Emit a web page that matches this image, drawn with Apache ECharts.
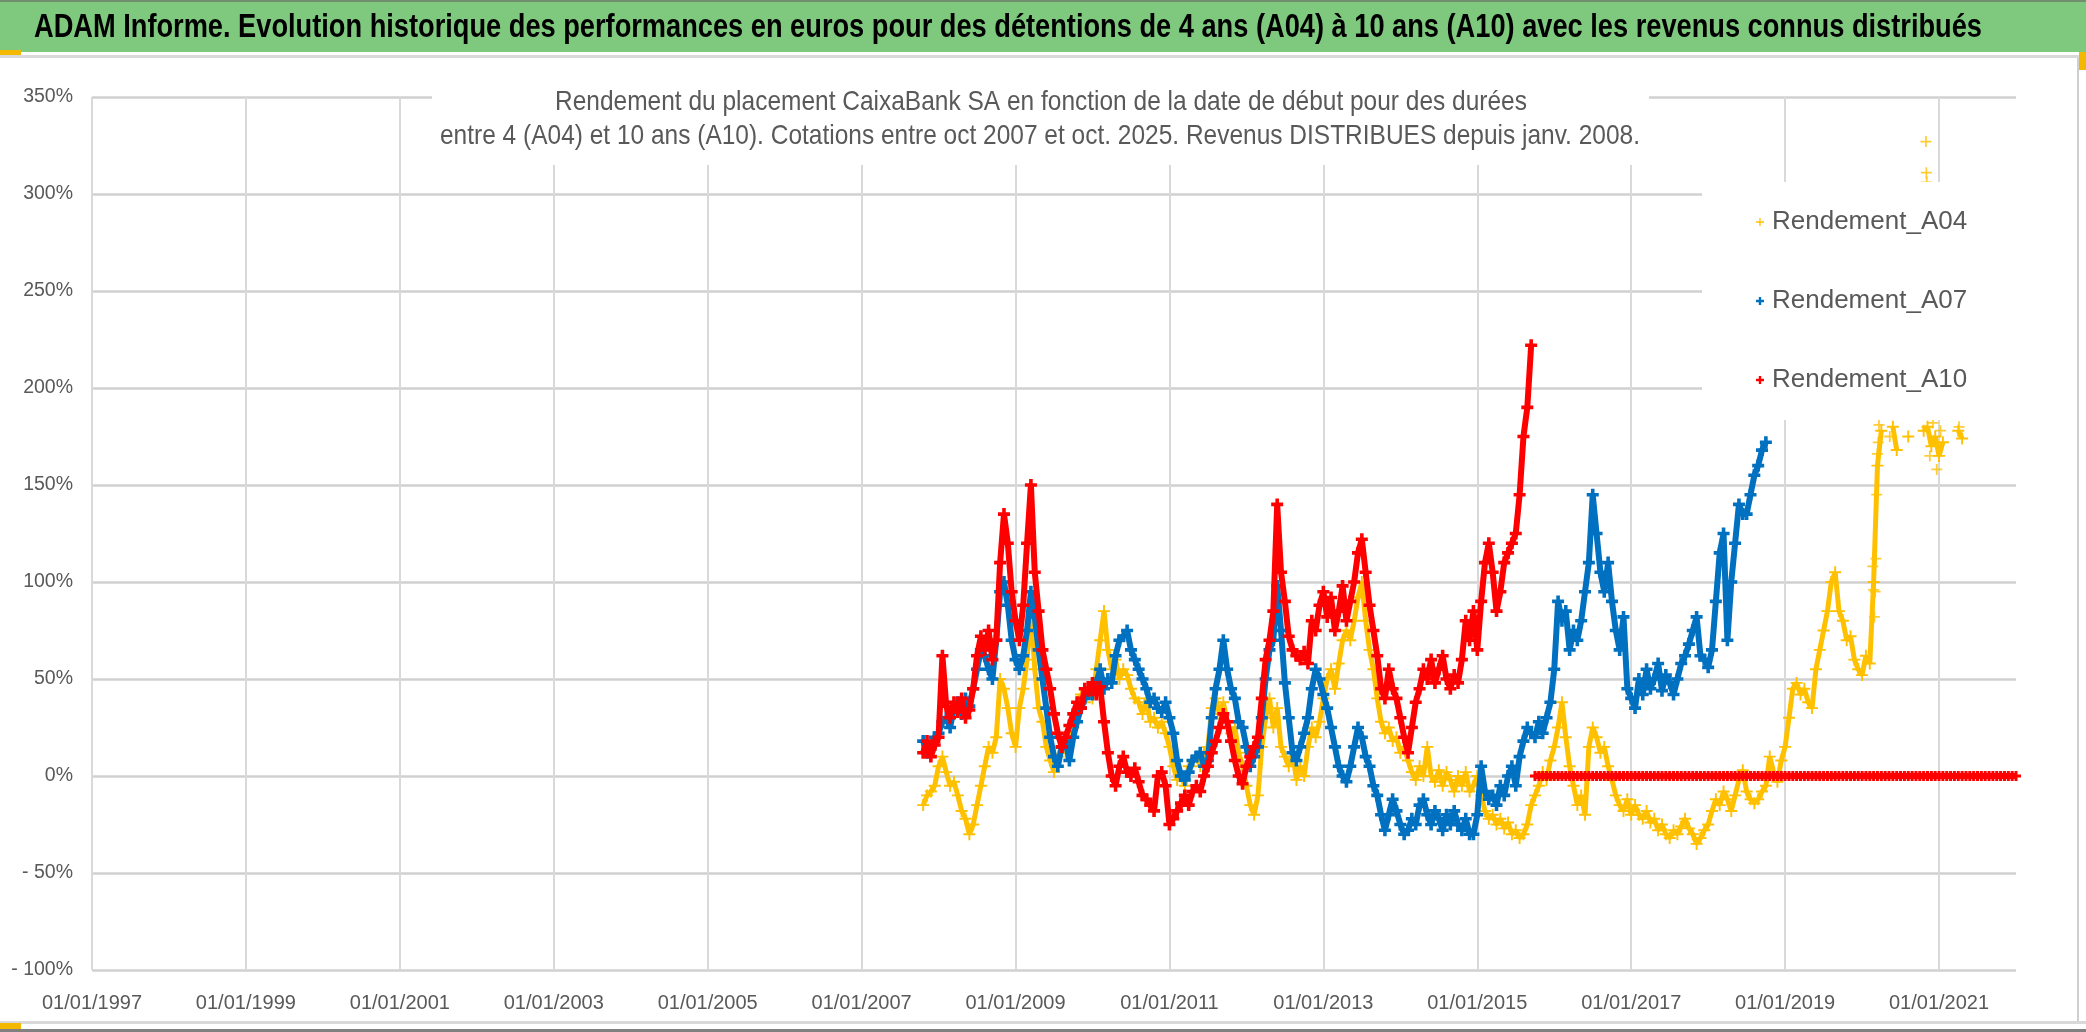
<!DOCTYPE html>
<html><head><meta charset="utf-8">
<script src="https://cdn.jsdelivr.net/npm/echarts@6/dist/echarts.min.js"></script>
<style>html,body{margin:0;padding:0;background:#fff;overflow:hidden}#c{width:2086px;height:1032px}</style>
</head><body><div id="c"></div>
<script>
// Start dates: regular grid, step 0.05 year
const startYear = 2007.80;
const step = 0.05;
const zeroStartYear = 2015.75;
const seriesNames = ['Rendement_A04', 'Rendement_A07', 'Rendement_A10'];
const xTickYears = ['1997','1999','2001','2003','2005','2007','2009','2011','2013','2015','2017','2019','2021'];
const mainTitle = 'ADAM Informe. Evolution historique des performances en euros pour des détentions de 4 ans (A04) à 10 ans (A10) avec les revenus connus distribués';
const subTitle1 = 'Rendement du placement CaixaBank SA en fonction de la date de début pour des durées';
const subTitle2 = 'entre 4 (A04) et 10 ans (A10). Cotations entre oct 2007 et oct. 2025. Revenus DISTRIBUES depuis janv. 2008.';

// Rendement_A04 (%), 2007.80 -> 2021.30
const a04 = [
  -15, -10, -8, -5,
  5, 10, 2, -5, -3, -10, -18, -22, -30, -25, -15, -5, 5, 15, 12, 20, 50, 45, 35, 22,
  15, 35, 45, 60, 85, 55, 35, 28, 15, 8, 2, 10, 15, 12, 20, 25, 38, 42, 38, 45,
  40, 55, 70, 85, 65, 55, 60, 50, 55, 52, 45, 40, 38, 32, 40, 28, 30, 25, 28, 22,
  15, 5, -2, 0, -5, 5, 8, 10, 5, 12, 15, 35, 40, 32, 38, 28, 22, 25, 12, 5,
  -5, -15, -20, -10, 15, 30, 40, 25, 35, 15, 10, 5, 12, -2, 5, 0, 15, 25, 20, 28,
  40, 50, 55, 45, 58, 70, 75, 70, 80, 92, 100, 80, 65, 55, 40, 28, 22, 25, 18, 20,
  12, 15, 8, 2, -2, 5, 0, 15, 0, -3, 3, -5, 2, -2, -8, 0, -5, 2, -8, -5,
  0, -10, -18, -22, -20, -25, -22, -27, -24, -30, -28, -32, -30, -25, -15, -10, -5, 2, -2, 8,
  15, 25, 38, 20, 5, -5, -15, -10, -20, 15, 25, 20, 12, 15, 5, -2, -10, -15, -18, -12,
  -20, -15, -20, -22, -18, -24, -22, -28, -25, -30, -32, -28, -30, -26, -22, -27, -30, -35, -32, -28,
  -25, -18, -12, -15, -8, -12, -18, -10, -2, 3, -8, -12, -14, -12, -8, -5, 10, 2, -3, 8,
  15, 30, 45, 48, 42, 45, 38, 35, 55, 65, 75, 85, 100, 105, 85, 80, 70, 72, 60, 55,
  52, 62, 58, 100, 160, 178, null, null, 180, 168, null, null, 175, null, null, null, 178, 180, 170, 175,
  165, 172, null, null, null, 178, 174
];
// A04 extra points off the regular grid [year, %]
const a04Extra = [
  [2020.14, 108], [2020.15, 96], [2020.16, 82], [2020.17, 95], [2020.18, 112], [2020.19, 145],
  [2020.20, 166], [2020.21, 172], [2020.22, 181], [2020.36, 175],
  [2020.83, 327], [2020.835, 311], [2020.84, 306], [2020.88, 165], [2020.92, 182],
  [2020.97, 158], [2021.02, 178], [2021.26, 180]
];

// Rendement_A07 (%), 2007.80 -> 2018.75
const a07 = [
  18, 12, 15, 20,
  22, 28, 30, 25, 35, 38, 32, 40, 36, 45, 55, 65, 62, 55, 50, 70, 95, 100, 88, 70,
  60, 55, 62, 75, 95, 82, 65, 50, 35, 20, 10, 5, 15, 18, 8, 20, 28, 35, 40, 45,
  42, 48, 55, 45, 50, 48, 62, 70, 72, 75, 65, 60, 55, 50, 45, 38, 40, 35, 33, 38,
  30, 22, 8, 0, -2, 2, 8, 10, 12, 5, 8, 30, 45, 55, 70, 55, 45, 40, 28, 25,
  15, 5, 10, 15, 30, 50, 65, 70, 98, 75, 48, 30, 12, 8, 15, 22, 30, 45, 55, 50,
  42, 35, 25, 15, 5, 0, -3, 5, 15, 25, 20, 10, 5, -5, -10, -20, -28, -20, -12, -18,
  -25, -30, -28, -22, -25, -15, -12, -20, -25, -18, -22, -28, -20, -25, -18, -25, -28, -22, -30, -30,
  -20, 5, -8, -12, -10, -15, -5, -10, 0, 5, -5, 10, 18, 25, 22, 20, 28, 22, 30, 38,
  55, 90, 80, 85, 65, 75, 70, 80, 95, 110, 145, 125, 105, 95, 110, 90, 75, 65, 82, 45,
  40, 35, 50, 42, 55, 45, 50, 58, 44, 52, 48, 42, 50, 58, 62, 68, 75, 82, 62, 60,
  56, 65, 90, 115, 125, 70, 100, 120, 140, 135, 135, 145, 155, 160, 168, 172
];

// Rendement_A10 (%), 2007.80 -> 2015.70
const a10 = [
  12, 18, 10, 16,
  20, 62, 36, 30, 38, 33, 40, 30, 34, 45, 62, 72, 65, 75, 60, 70, 110, 135, 120, 95,
  80, 70, 88, 120, 150, 105, 85, 65, 55, 45, 32, 22, 15, 20, 26, 32, 38, 35, 45, 44,
  48, 42, 46, 28, 12, 0, -5, 5, 10, 2, 0, 4, -3, -10, -12, -15, -18, 0, 2, -5,
  -25, -22, -18, -14, -10, -15, -8, -5, -8, 0, 5, 12, 18, 25, 32, 28, 18, 8, 0, -4,
  5, 10, 15, 20, 40, 60, 70, 85, 140, 105, 90, 72, 65, 62, 60, 64, 58, 80, 75, 88,
  95, 82, 92, 75, 85, 98, 80, 90, 100, 115, 122, 105, 88, 75, 62, 45, 40, 55, 45, 40,
  30, 20, 12, 25, 38, 45, 55, 50, 60, 48, 55, 62, 50, 45, 52, 48, 60, 80, 70, 85,
  65, 90, 110, 120, 105, 85, 95, 110, 115, 120, 125, 145, 175, 190, 222
];
// Rendement_A10 (%), 2015.75 -> 2022.00 (no 10-year result yet: 0)
const a10Zero = [
  0, 0, 0, 0, 0,
  0, 0, 0, 0, 0, 0, 0, 0, 0, 0, 0, 0, 0, 0, 0, 0, 0, 0, 0, 0,
  0, 0, 0, 0, 0, 0, 0, 0, 0, 0, 0, 0, 0, 0, 0, 0, 0, 0, 0, 0,
  0, 0, 0, 0, 0, 0, 0, 0, 0, 0, 0, 0, 0, 0, 0, 0, 0, 0, 0, 0,
  0, 0, 0, 0, 0, 0, 0, 0, 0, 0, 0, 0, 0, 0, 0, 0, 0, 0, 0, 0,
  0, 0, 0, 0, 0, 0, 0, 0, 0, 0, 0, 0, 0, 0, 0, 0, 0, 0, 0, 0,
  0, 0, 0, 0, 0, 0, 0, 0, 0, 0, 0, 0, 0, 0, 0, 0, 0, 0, 0, 0,
  0
];

const BASE = 1997;
function toPoints(vals, y0) {
  return vals.map((v, i) => {
    const yr = Math.round((y0 + i * step) * 1000) / 1000;
    return [yr - BASE, v];
  });
}
const a04Data = toPoints(a04, startYear);
const a04ExtraData = a04Extra.map(p => [p[0] - BASE, p[1]]);
const a07Data = toPoints(a07, startYear);
const a10Data = toPoints(a10, startYear);
const a10ZeroData = toPoints(a10Zero, zeroStartYear);

const SANS = "'Liberation Sans',Arial,sans-serif";
const plusThin = 'path://M0,4.2H4.2V0H5.8V4.2H10V5.8H5.8V10H4.2V5.8H0Z';
const plusBold = 'path://M0,3.5H3.5V0H6.5V3.5H10V6.5H6.5V10H3.5V6.5H0Z';

// condensed text helper (Calibri-like narrow look)
const mctx = document.createElement('canvas').getContext('2d');
function textWidth(txt, font) { mctx.font = font; return mctx.measureText(txt).width; }
const titleFont = 'bold 33px ' + SANS;
const titleScale = 1948 / textWidth(mainTitle, titleFont);
const subFont = '28px ' + SANS;
const subScale = 1200 / textWidth(subTitle2, subFont);

const colA04 = '#ffc000', colA07 = '#0070c0', colA10 = '#ff0000';

function lineSeries(name, data, color, sym, size, width, z) {
  return {
    name, type: 'line', data, symbol: sym, symbolSize: size, showSymbol: true,
    connectNulls: false, showAllSymbol: true,
    lineStyle: {color, width}, itemStyle: {color}, emphasis: {disabled: true}, z
  };
}

const chart = echarts.init(document.getElementById('c'), null, {renderer: 'canvas'});
chart.setOption({
  animation: false,
  backgroundColor: '#ffffff',
  graphic: [
    {type: 'rect', z: 10, shape: {x: 0, y: 0, width: 2086, height: 2}, style: {fill: '#6f8f6f'}},
    {type: 'rect', z: 10, shape: {x: 0, y: 2, width: 2086, height: 50}, style: {fill: '#7fc97f'}},
    {type: 'rect', z: 10, shape: {x: 0, y: 55, width: 2086, height: 3}, style: {fill: '#d9d9d9'}},
    {type: 'rect', z: 10, shape: {x: 2077, y: 58, width: 2, height: 964}, style: {fill: '#cfcfcf'}},
    {type: 'rect', z: 10, shape: {x: 0, y: 1021, width: 2086, height: 3}, style: {fill: '#d9d9d9'}},
    {type: 'rect', z: 10, shape: {x: 0, y: 1029, width: 2086, height: 3}, style: {fill: '#808080'}},
    {type: 'rect', z: 10, shape: {x: 0, y: 50, width: 21, height: 5}, style: {fill: '#f5b800'}},
    {type: 'rect', z: 10, shape: {x: 0, y: 1023, width: 21, height: 6}, style: {fill: '#f5b800'}},
    {type: 'rect', z: 10, shape: {x: 2079, y: 52, width: 7, height: 18}, style: {fill: '#f5b800'}},
    {type: 'text', z: 11, x: 34, y: 28, scaleX: titleScale, originX: 0,
     style: {text: mainTitle, font: titleFont, fill: '#000000', textAlign: 'left', textVerticalAlign: 'middle'}},
    {type: 'rect', z: 10, shape: {x: 432, y: 76, width: 1217, height: 89}, style: {fill: '#ffffff'}},
    {type: 'text', z: 11, x: 1041, y: 102, scaleX: subScale, originX: 0,
     style: {text: subTitle1, font: subFont, fill: '#595959', textAlign: 'center', textVerticalAlign: 'middle'}},
    {type: 'text', z: 11, x: 1040, y: 136, scaleX: subScale, originX: 0,
     style: {text: subTitle2, font: subFont, fill: '#595959', textAlign: 'center', textVerticalAlign: 'middle'}}
  ],
  legend: {
    orient: 'vertical', left: 1702, top: 182,
    padding: [27, 52, 27, 54], itemGap: 53, itemWidth: 8, itemHeight: 8,
    backgroundColor: '#ffffff',
    textStyle: {fontFamily: SANS, fontSize: 26, color: '#595959', padding: [0, 0, 0, 3]},
    data: [
      {name: seriesNames[0], icon: plusThin, itemStyle: {color: colA04}},
      {name: seriesNames[1], icon: plusBold, itemStyle: {color: colA07}},
      {name: seriesNames[2], icon: plusBold, itemStyle: {color: colA10}}
    ]
  },
  grid: {left: 92, right: 70, top: 97, bottom: 62, containLabel: false},
  xAxis: {
    type: 'value', min: 0, max: 25, interval: 2,
    axisLine: {show: false}, axisTick: {show: false},
    axisLabel: {
      fontFamily: SANS, fontSize: 20, color: '#595959', margin: 23,
      showMaxLabel: false,
      formatter: v => (v % 2 === 0 && xTickYears[v / 2]) ? '01/01/' + xTickYears[v / 2] : ''
    },
    splitLine: {show: true, showMaxLine: false, lineStyle: {color: '#d9d9d9', width: 2}}
  },
  yAxis: {
    type: 'value', min: -100, max: 350, interval: 50,
    axisLine: {show: false}, axisTick: {show: false},
    axisLabel: {
      fontFamily: SANS, fontSize: 19.5, color: '#595959', margin: 19,
      formatter: v => v === 0 ? '0%' : (v < 0 ? '- ' + Math.abs(v) + '%' : v + '%')
    },
    splitLine: {show: true, lineStyle: {color: '#d0d0d0', width: 2.5}}
  },
  series: [
    lineSeries(seriesNames[0], a04Data, colA04, plusThin, 12, 5, 2),
    {name: seriesNames[0], type: 'scatter', data: a04ExtraData, symbol: plusThin, symbolSize: 11,
     itemStyle: {color: colA04}, emphasis: {disabled: true}, z: 2},
    lineSeries(seriesNames[1], a07Data, colA07, plusBold, 12, 6, 3),
    lineSeries(seriesNames[2], a10Data, colA10, plusBold, 12, 6, 4),
    lineSeries(seriesNames[2], a10ZeroData, colA10, plusBold, 10, 6, 4)
  ]
});
</script>
</body></html>
